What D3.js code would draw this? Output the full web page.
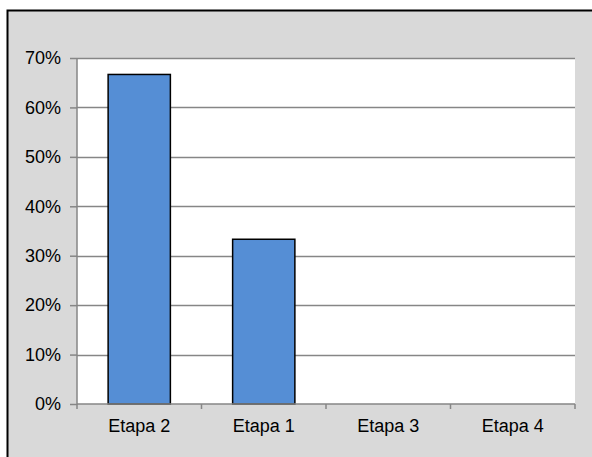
<html lang="en">
<head>
<script src="https://cdn.jsdelivr.net/npm/d3@7"></script>
<style>
body{margin:0;background:#fff;}
text{font-family:"Liberation Sans",Arial,sans-serif;font-size:18px;fill:#000;}
</style>
</head>
<body>
<div id="chart"></div>
<script>
// data
const categories=["Etapa 2","Etapa 1","Etapa 3","Etapa 4"]
const values=[0.6667,0.3333,0,0]
const yTicks=[0,0.1,0.2,0.3,0.4,0.5,0.6,0.7]

const W=592,H=457
const m={left:77,right:575,top:58,bottom:404}

svg=d3.select("#chart").append("svg").attr("width",W).attr("height",H)

// outer frame, clipped on the right and bottom like the picture
svg.append("rect").attr("x",7.5).attr("y",10.5).attr("width",W).attr("height",H)
  .style("fill","#d9d9d9").style("stroke","#000").style("stroke-width",2)

x=d3.scaleBand().domain(categories).range([m.left,m.right]).paddingInner(0).paddingOuter(0)
y=d3.scaleLinear().domain([0,0.7]).range([m.bottom,m.top])

svg.append("rect").attr("x",m.left).attr("y",m.top).attr("width",m.right-m.left).attr("height",m.bottom-m.top).style("fill","#fff")

// gridlines
svg.append("g").selectAll("line").data(yTicks.filter(d=>d>0)).enter().append("line")
  .attr("x1",m.left).attr("x2",m.right).attr("y1",d=>Math.round(y(d))+0.5).attr("y2",d=>Math.round(y(d))+0.5)
  .style("stroke","#868686").style("stroke-width",1.5)

// bars, half the band wide
bw=x.bandwidth()/2
svg.append("g").selectAll("rect").data(values.map((v,i)=>({c:categories[i],v:v})).filter(d=>d.v>0)).enter().append("rect")
  .attr("x",d=>x(d.c)+bw/2).attr("y",d=>y(d.v)).attr("width",bw).attr("height",d=>y(0)-y(d.v))
  .style("fill","#558ed5").style("stroke","#000").style("stroke-width",1.5)

// y axis
ya=svg.append("g").attr("transform","translate("+m.left+",0)")
  .call(d3.axisLeft(y).tickValues(yTicks).tickFormat(d3.format(".0%")).tickSize(7).tickPadding(9))
ya.select(".domain").attr("d","M0,"+m.top+"V"+(m.bottom+0.5)).style("stroke","#868686").style("stroke-width",1.5)
ya.selectAll(".tick line").style("stroke","#868686").style("stroke-width",1.5)
ya.selectAll("text").style("font-size","18px").attr("font-family",null)

// x axis, ticks at the band edges
xa=svg.append("g").attr("transform","translate(0,"+m.bottom+")")
  .call(d3.axisBottom(x).tickSize(0).tickPadding(15))
xa.select(".domain").remove()
xa.selectAll("text").style("font-size","18px").attr("font-family",null)
xa.append("line").attr("x1",m.left).attr("x2",m.right).attr("y1",0).attr("y2",0).style("stroke","#868686").style("stroke-width",1.5)
edges=categories.map(c=>x(c)).concat([m.right])
xa.selectAll(".edge").data(edges).enter().append("line").attr("class","edge")
  .attr("x1",d=>d).attr("x2",d=>d).attr("y1",0).attr("y2",5).style("stroke","#868686").style("stroke-width",1.5)
</script>
</body>
</html>
